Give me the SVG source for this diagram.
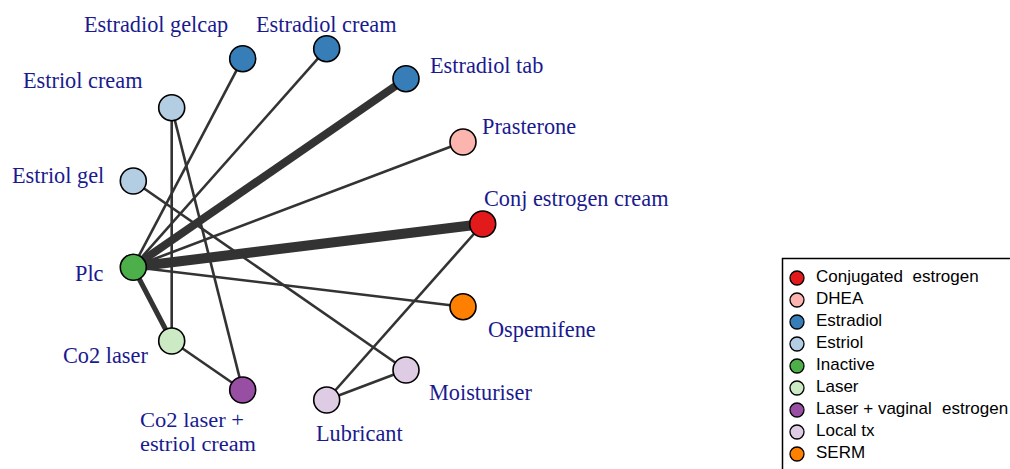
<svg xmlns="http://www.w3.org/2000/svg" width="1010" height="469" viewBox="0 0 1010 469">
  <style>
    .edge { stroke: #333333; stroke-linecap: butt; fill: none; }
    .thin { stroke-width: 2.6; }
    .node { stroke: #000000; stroke-width: 1.6; }
    .lbl { font-family: "Liberation Serif", "Times New Roman", serif; font-size: 22.3px; fill: #1a1a8f; }
    .lbl2 { font-family: "Liberation Serif", "Times New Roman", serif; font-size: 20.5px; fill: #1a1a8f; }
    .leg { font-family: "Liberation Sans", Arial, sans-serif; font-size: 17px; fill: #000000; }
    .legdot { stroke: #000000; stroke-width: 1.3; }
  </style>
  <rect width="1010" height="469" fill="#ffffff"/>

  <!-- connectors -->
  <g id="connectors">
    <line class="edge thin" x1="133" y1="267" x2="242.7" y2="58.7"/>
    <line class="edge thin" x1="133" y1="267" x2="326.7" y2="48.7"/>
    <line class="edge" stroke-width="8" x1="133" y1="267" x2="406" y2="78.7"/>
    <line class="edge thin" x1="133" y1="267" x2="463" y2="142"/>
    <line class="edge" stroke-width="10" x1="133" y1="267" x2="482.7" y2="224"/>
    <line class="edge thin" x1="133" y1="267" x2="463" y2="306.7"/>
    <line class="edge" stroke-width="5" x1="133" y1="267" x2="171.7" y2="341"/>
    <line class="edge thin" x1="171.7" y1="107.7" x2="171.7" y2="341"/>
    <line class="edge thin" x1="171.7" y1="107.7" x2="242.7" y2="390"/>
    <line class="edge thin" x1="133.3" y1="181" x2="406" y2="370"/>
    <line class="edge thin" x1="171.7" y1="341" x2="242.7" y2="390"/>
    <line class="edge thin" x1="326.7" y1="400" x2="406" y2="370"/>
    <line class="edge thin" x1="326.7" y1="400" x2="482.7" y2="224"/>
  </g>

  <!-- nodes -->
  <g id="node-estradiol-gelcap">
    <circle class="node" cx="242.7" cy="58.7" r="13" fill="#377eb8"/>
    <text class="lbl" x="84" y="32">Estradiol gelcap</text>
  </g>
  <g id="node-estradiol-cream">
    <circle class="node" cx="326.7" cy="48.7" r="13" fill="#377eb8"/>
    <text class="lbl" x="256" y="32">Estradiol cream</text>
  </g>
  <g id="node-estradiol-tab">
    <circle class="node" cx="406" cy="78.7" r="13" fill="#377eb8"/>
    <text class="lbl" x="430" y="72.5">Estradiol tab</text>
  </g>
  <g id="node-prasterone">
    <circle class="node" cx="463" cy="142" r="13" fill="#fbb4ae"/>
    <text class="lbl" x="482" y="134">Prasterone</text>
  </g>
  <g id="node-conj-estrogen-cream">
    <circle class="node" cx="482.7" cy="224" r="13" fill="#e31a1c"/>
    <text class="lbl" x="484" y="206">Conj estrogen cream</text>
  </g>
  <g id="node-ospemifene">
    <circle class="node" cx="463" cy="306.7" r="13" fill="#ff7f00"/>
    <text class="lbl" x="488" y="337">Ospemifene</text>
  </g>
  <g id="node-moisturiser">
    <circle class="node" cx="406" cy="370" r="13" fill="#decbe4"/>
    <text class="lbl" x="429" y="400">Moisturiser</text>
  </g>
  <g id="node-lubricant">
    <circle class="node" cx="326.7" cy="400" r="13" fill="#decbe4"/>
    <text class="lbl" x="316" y="440.5">Lubricant</text>
  </g>
  <g id="node-co2-laser-estriol">
    <circle class="node" cx="242.7" cy="390" r="13" fill="#984ea3"/>
    <text class="lbl2" x="140" y="427" textLength="104" lengthAdjust="spacingAndGlyphs">Co2 laser +</text>
    <text class="lbl2" x="140" y="451" textLength="116" lengthAdjust="spacingAndGlyphs">estriol cream</text>
  </g>
  <g id="node-co2-laser">
    <circle class="node" cx="171.7" cy="341" r="13" fill="#ccebc5"/>
    <text class="lbl" x="63" y="363">Co2 laser</text>
  </g>
  <g id="node-plc">
    <circle class="node" cx="133.3" cy="267.3" r="13" fill="#4daf4a"/>
    <text class="lbl" x="75" y="280.5">Plc</text>
  </g>
  <g id="node-estriol-gel">
    <circle class="node" cx="133.3" cy="181" r="13" fill="#b3cde3"/>
    <text class="lbl" x="12" y="183">Estriol gel</text>
  </g>
  <g id="node-estriol-cream">
    <circle class="node" cx="171.7" cy="107.7" r="13" fill="#b3cde3"/>
    <text class="lbl" x="23" y="88">Estriol cream</text>
  </g>

  <!-- legend -->
  <g id="legend">
    <rect x="782.5" y="258.5" width="240" height="230" fill="#ffffff" stroke="#000000" stroke-width="1.5"/>
    <circle class="legdot" cx="797" cy="278" r="7" fill="#e31a1c"/>
    <text class="leg" x="816" y="282">Conjugated<tspan x="912.5">estrogen</tspan></text>
    <circle class="legdot" cx="797" cy="300" r="7" fill="#fbb4ae"/>
    <text class="leg" x="816" y="304">DHEA</text>
    <circle class="legdot" cx="797" cy="322" r="7" fill="#377eb8"/>
    <text class="leg" x="816" y="326">Estradiol</text>
    <circle class="legdot" cx="797" cy="344" r="7" fill="#b3cde3"/>
    <text class="leg" x="816" y="348">Estriol</text>
    <circle class="legdot" cx="797" cy="366" r="7" fill="#4daf4a"/>
    <text class="leg" x="816" y="370">Inactive</text>
    <circle class="legdot" cx="797" cy="388" r="7" fill="#ccebc5"/>
    <text class="leg" x="816" y="392">Laser</text>
    <circle class="legdot" cx="797" cy="410" r="7" fill="#984ea3"/>
    <text class="leg" x="816" y="414">Laser + vaginal<tspan x="942">estrogen</tspan></text>
    <circle class="legdot" cx="797" cy="432" r="7" fill="#decbe4"/>
    <text class="leg" x="816" y="436">Local tx</text>
    <circle class="legdot" cx="797" cy="454" r="7" fill="#ff7f00"/>
    <text class="leg" x="816" y="458">SERM</text>
  </g>
</svg>
